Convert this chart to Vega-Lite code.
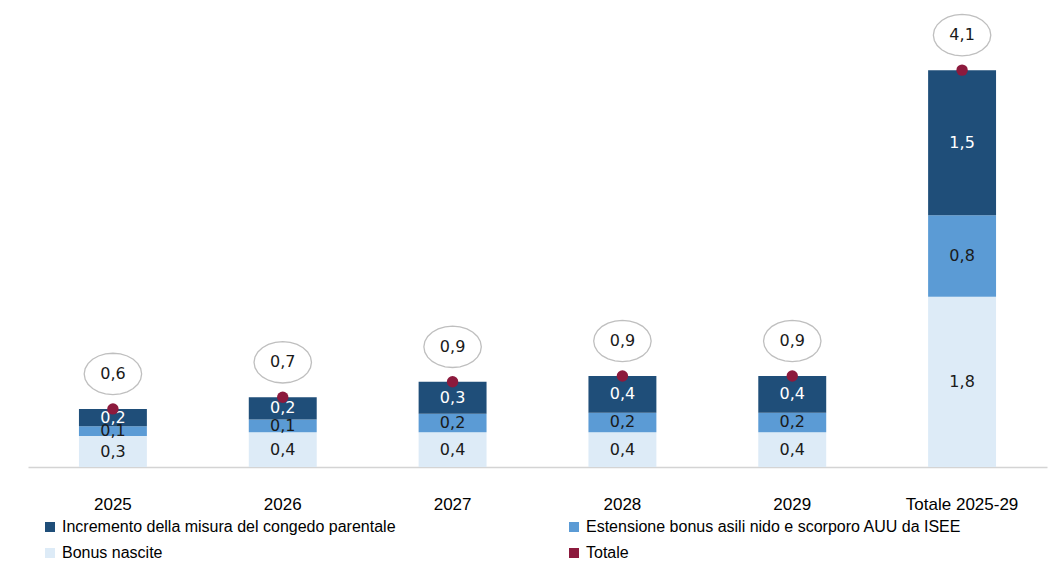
{
  "$schema": "https://vega.github.io/schema/vega-lite/v6.json",
  "width": 1019,
  "height": 453,
  "autosize": {"type": "none"},
  "padding": {"left": 28, "top": 14, "right": 14, "bottom": 105},
  "background": "white",
  "config": {"view": {"stroke": null}},
  "data": {
    "values": [
      {"categoria": "2025", "serie": "Bonus nascite", "valore": 0.32, "etichetta": "0,3"},
      {"categoria": "2025", "serie": "Estensione bonus asili nido e scorporo AUU da ISEE", "valore": 0.10, "etichetta": "0,1"},
      {"categoria": "2025", "serie": "Incremento della misura del congedo parentale", "valore": 0.18, "etichetta": "0,2"},
      {"categoria": "2025", "serie": "Totale", "valore": 0.60, "etichetta": "0,6"},
      {"categoria": "2026", "serie": "Bonus nascite", "valore": 0.36, "etichetta": "0,4"},
      {"categoria": "2026", "serie": "Estensione bonus asili nido e scorporo AUU da ISEE", "valore": 0.13, "etichetta": "0,1"},
      {"categoria": "2026", "serie": "Incremento della misura del congedo parentale", "valore": 0.23, "etichetta": "0,2"},
      {"categoria": "2026", "serie": "Totale", "valore": 0.72, "etichetta": "0,7"},
      {"categoria": "2027", "serie": "Bonus nascite", "valore": 0.36, "etichetta": "0,4"},
      {"categoria": "2027", "serie": "Estensione bonus asili nido e scorporo AUU da ISEE", "valore": 0.19, "etichetta": "0,2"},
      {"categoria": "2027", "serie": "Incremento della misura del congedo parentale", "valore": 0.33, "etichetta": "0,3"},
      {"categoria": "2027", "serie": "Totale", "valore": 0.88, "etichetta": "0,9"},
      {"categoria": "2028", "serie": "Bonus nascite", "valore": 0.36, "etichetta": "0,4"},
      {"categoria": "2028", "serie": "Estensione bonus asili nido e scorporo AUU da ISEE", "valore": 0.20, "etichetta": "0,2"},
      {"categoria": "2028", "serie": "Incremento della misura del congedo parentale", "valore": 0.38, "etichetta": "0,4"},
      {"categoria": "2028", "serie": "Totale", "valore": 0.94, "etichetta": "0,9"},
      {"categoria": "2029", "serie": "Bonus nascite", "valore": 0.36, "etichetta": "0,4"},
      {"categoria": "2029", "serie": "Estensione bonus asili nido e scorporo AUU da ISEE", "valore": 0.20, "etichetta": "0,2"},
      {"categoria": "2029", "serie": "Incremento della misura del congedo parentale", "valore": 0.38, "etichetta": "0,4"},
      {"categoria": "2029", "serie": "Totale", "valore": 0.94, "etichetta": "0,9"},
      {"categoria": "Totale 2025-29", "serie": "Bonus nascite", "valore": 1.76, "etichetta": "1,8"},
      {"categoria": "Totale 2025-29", "serie": "Estensione bonus asili nido e scorporo AUU da ISEE", "valore": 0.84, "etichetta": "0,8"},
      {"categoria": "Totale 2025-29", "serie": "Incremento della misura del congedo parentale", "valore": 1.50, "etichetta": "1,5"},
      {"categoria": "Totale 2025-29", "serie": "Totale", "valore": 4.10, "etichetta": "4,1"}
    ]
  },
  "layer": [
    {
      "transform": [{"filter": "datum.serie !== 'Totale'"}],
      "mark": {"type": "bar"},
      "encoding": {
        "x": {
          "field": "categoria", "type": "nominal",
          "scale": {"paddingInner": 0.6, "paddingOuter": 0.3},
          "axis": {"title": null, "ticks": false, "labelPadding": 29, "labelFont": "Liberation Sans", "labelFontSize": 17, "labelColor": "#000000", "domainColor": "#D4D4D4", "domainWidth": 1.5, "labelAngle": 0, "labelLimit": 250}
        },
        "y": {"field": "valore", "type": "quantitative", "stack": "zero", "scale": {"domain": [0, 4.68], "nice": false, "zero": true}, "axis": null},
        "order": {"field": "serie", "sort": "ascending"},
        "color": {
          "field": "serie", "type": "nominal",
          "scale": {
            "domain": ["Incremento della misura del congedo parentale", "Estensione bonus asili nido e scorporo AUU da ISEE", "Bonus nascite", "Totale"],
            "range": ["#1F4E79", "#5B9BD5", "#DDEBF7", "#8C1A3D"]
          },
          "legend": {"title": null, "orient": "bottom", "columns": 2, "columnPadding": 170, "rowPadding": 10, "padding": 14, "labelFontSize": 16, "labelColor": "#000000", "labelLimit": 600, "symbolType": "square", "offset": -7}
        }
      }
    },
    {
      "transform": [{"filter": "datum.serie !== 'Totale'"}],
      "mark": {"type": "text", "font": "DejaVu Sans", "fontSize": 16, "baseline": "middle", "align": "center"},
      "encoding": {
        "x": {"field": "categoria", "type": "nominal"},
        "y": {"field": "valore", "type": "quantitative", "stack": "zero", "bandPosition": 0.5},
        "order": {"field": "serie", "sort": "ascending"},
        "detail": {"field": "serie", "type": "nominal"},
        "text": {"field": "etichetta", "type": "nominal"},
        "color": {"condition": {"test": "datum.serie === 'Incremento della misura del congedo parentale'", "value": "#FFFFFF"}, "value": "#1A1A1A"}
      }
    },
    {
      "transform": [{"filter": "datum.serie === 'Totale'"}],
      "mark": {"type": "point", "filled": true, "size": 130, "opacity": 1},
      "encoding": {
        "x": {"field": "categoria", "type": "nominal"},
        "y": {"field": "valore", "type": "quantitative"},
        "color": {"field": "serie", "type": "nominal"}
      }
    },
    {
      "transform": [{"filter": "datum.serie === 'Totale'"}],
      "mark": {"type": "point", "shape": "M1,0L0.966,0.186L0.866,0.36L0.707,0.509L0.5,0.624L0.259,0.695L0,0.72L-0.259,0.695L-0.5,0.624L-0.707,0.509L-0.866,0.36L-0.966,0.186L-1,0L-0.966,-0.186L-0.866,-0.36L-0.707,-0.509L-0.5,-0.624L-0.259,-0.695L0,-0.72L0.259,-0.695L0.5,-0.624L0.707,-0.509L0.866,-0.36L0.966,-0.186Z", "size": 3300, "fill": "#FFFFFF", "stroke": "#BFBFBF", "strokeWidth": 1.3, "opacity": 1, "fillOpacity": 1, "yOffset": -35},
      "encoding": {
        "x": {"field": "categoria", "type": "nominal"},
        "y": {"field": "valore", "type": "quantitative"}
      }
    },
    {
      "transform": [{"filter": "datum.serie === 'Totale'"}],
      "mark": {"type": "text", "font": "DejaVu Sans", "fontSize": 16, "baseline": "middle", "align": "center", "color": "#1A1A1A", "yOffset": -35},
      "encoding": {
        "x": {"field": "categoria", "type": "nominal"},
        "y": {"field": "valore", "type": "quantitative"},
        "text": {"field": "etichetta", "type": "nominal"}
      }
    }
  ]
}
